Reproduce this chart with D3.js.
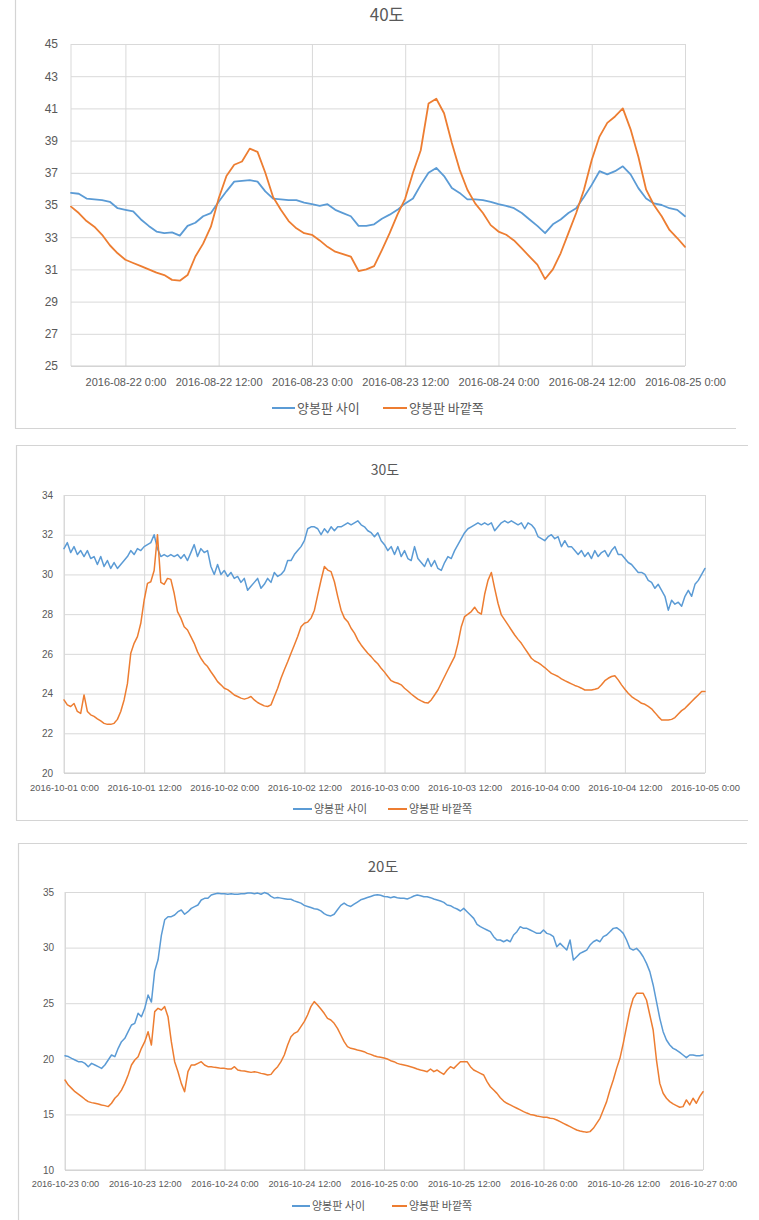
<!DOCTYPE html>
<html><head><meta charset="utf-8">
<script src="https://cdn.jsdelivr.net/npm/d3@7"></script>
<style>
body{margin:0;background:#fff;}
svg{display:block;}
</style></head><body>
<svg id="c" width="759" height="1220"></svg>
<script>
// ---------- DATA ----------
const seriesNames = ["양봉판 사이", "양봉판 바깥쪽"];
const seriesColors = ["#5B9BD5", "#ED7D31"];
const titles = ["40도", "30도", "20도"];

// Panel 1 (40도): hourly readings from 2016-08-21 17:00
const p1Start = "2016-08-21T17:00:00", p1StepMin = 60, p1End = "2016-08-25T00:00:00";
const p1YTicks = [25, 27, 29, 31, 33, 35, 37, 39, 41, 43, 45];
const p1XTicks = ["2016-08-22T00:00:00","2016-08-22T12:00:00","2016-08-23T00:00:00","2016-08-23T12:00:00","2016-08-24T00:00:00","2016-08-24T12:00:00","2016-08-25T00:00:00"];
const p1Blue = [35.75,35.7,35.4,35.35,35.3,35.2,34.8,34.7,34.6,34.1,33.7,33.35,33.25,33.3,33.1,33.7,33.9,34.3,34.5,35.2,
  35.85,36.45,36.5,36.55,36.45,35.85,35.4,35.35,35.3,35.3,35.15,35.05,34.95,35.05,34.7,34.5,34.3,33.7,33.7,33.8,
  34.15,34.4,34.7,35.1,35.4,36.25,37.0,37.3,36.8,36.05,35.75,35.35,35.35,35.3,35.2,35.05,34.95,34.8,34.5,34.1,
  33.7,33.25,33.8,34.1,34.5,34.8,35.5,36.25,37.1,36.9,37.1,37.4,36.9,36.05,35.4,35.1,35.0,34.8,34.7,34.3];
const p1Orange = [34.9,34.5,34.0,33.65,33.15,32.5,32.0,31.6,31.4,31.2,31.0,30.8,30.65,30.35,30.3,30.65,31.8,32.6,33.65,35.4,
  36.8,37.5,37.7,38.5,38.3,37.0,35.5,34.7,34.0,33.55,33.25,33.15,32.8,32.4,32.1,31.95,31.8,30.9,31.0,31.2,
  32.2,33.25,34.4,35.4,37.0,38.4,41.3,41.6,40.7,38.85,37.2,35.95,35.1,34.5,33.75,33.35,33.15,32.8,32.3,31.8,
  31.3,30.4,31.0,32.0,33.25,34.5,35.95,37.8,39.25,40.1,40.5,41.0,39.7,38.0,35.95,35.0,34.3,33.45,32.95,32.4];

// Panel 2 (30도): 30-minute readings from 2016-10-01 00:00
const p2Start = "2016-10-01T00:00:00", p2StepMin = 30, p2End = "2016-10-05T00:00:00";
const p2YTicks = [20, 22, 24, 26, 28, 30, 32, 34];
const p2XTicks = ["2016-10-01T00:00:00","2016-10-01T12:00:00","2016-10-02T00:00:00","2016-10-02T12:00:00","2016-10-03T00:00:00","2016-10-03T12:00:00","2016-10-04T00:00:00","2016-10-04T12:00:00","2016-10-05T00:00:00"];
const p2Blue = [31.3,31.6,31.1,31.4,31.0,31.2,30.9,31.2,30.8,30.9,30.5,30.9,30.4,30.7,30.3,30.6,30.3,30.5,30.7,30.9,
  31.2,31.0,31.3,31.2,31.4,31.5,31.6,32.0,31.3,30.9,31.0,30.9,31.0,30.9,31.0,30.8,31.0,30.7,31.1,31.5,
  30.9,31.3,31.1,31.2,30.4,30.0,30.5,30.0,30.2,29.9,30.1,29.8,29.9,29.6,29.8,29.2,29.4,29.6,29.8,29.3,
  29.5,29.8,29.6,30.1,29.9,30.0,30.2,30.7,30.7,31.0,31.2,31.4,31.7,32.3,32.4,32.4,32.3,32.0,32.3,32.1,
  32.4,32.2,32.4,32.4,32.5,32.6,32.5,32.6,32.7,32.5,32.4,32.2,32.1,31.9,32.1,31.7,31.5,31.2,31.4,31.0,
  31.4,30.9,31.2,30.8,30.7,31.4,30.8,30.6,30.4,30.8,30.4,30.7,30.3,30.2,30.6,30.9,30.8,31.2,31.5,31.8,
  32.1,32.3,32.4,32.5,32.6,32.5,32.6,32.5,32.6,32.2,32.4,32.6,32.7,32.6,32.7,32.6,32.5,32.6,32.3,32.6,
  32.5,32.3,31.9,31.8,31.7,31.9,32.0,31.8,31.9,31.4,31.7,31.4,31.4,31.2,31.0,31.2,30.9,31.1,30.8,31.2,
  30.9,31.1,31.2,30.9,31.2,31.4,31.0,31.0,30.8,30.6,30.5,30.3,30.1,30.1,30.0,29.7,29.6,29.3,29.5,29.2,
  28.9,28.2,28.7,28.5,28.6,28.4,28.9,29.2,28.9,29.5,29.7,30.0,30.3];
const p2Orange = [23.68,23.43,23.35,23.5,23.1,23.0,23.93,23.1,22.93,22.85,22.73,22.62,22.5,22.45,22.45,22.5,22.7,23.1,23.68,24.5,
  26.03,26.53,26.87,27.54,28.7,29.55,29.63,30.2,32.0,29.6,29.5,29.8,29.75,29.05,28.13,27.8,27.37,27.2,26.87,26.53,
  26.1,25.78,25.53,25.36,25.1,24.86,24.6,24.44,24.27,24.2,24.07,23.93,23.85,23.77,23.72,23.77,23.85,23.68,23.55,23.46,
  23.38,23.35,23.43,23.85,24.27,24.77,25.2,25.6,26.03,26.45,26.87,27.37,27.54,27.6,27.8,28.2,28.97,29.72,30.4,30.22,
  30.14,29.63,28.88,28.2,27.8,27.62,27.29,27.04,26.7,26.45,26.23,26.03,25.86,25.66,25.5,25.27,25.08,24.86,24.65,24.57,
  24.52,24.44,24.27,24.13,23.98,23.85,23.72,23.63,23.55,23.52,23.68,23.93,24.18,24.52,24.86,25.2,25.53,25.86,26.53,27.37,
  27.88,28.0,28.13,28.35,28.1,28.0,29.0,29.7,30.1,29.3,28.55,27.96,27.71,27.46,27.2,26.95,26.73,26.53,26.28,26.03,
  25.78,25.64,25.56,25.44,25.31,25.16,25.02,24.94,24.86,24.74,24.65,24.57,24.49,24.41,24.35,24.27,24.18,24.18,24.18,24.22,
  24.27,24.44,24.65,24.77,24.86,24.9,24.69,24.44,24.22,24.02,23.85,23.73,23.63,23.51,23.46,23.35,23.23,23.04,22.84,22.67,
  22.67,22.67,22.7,22.79,22.97,23.14,23.26,23.43,23.6,23.77,23.93,24.1,24.1];

// Panel 3 (20도): 30-minute readings from 2016-10-23 00:00
const p3Start = "2016-10-23T00:00:00", p3StepMin = 30, p3End = "2016-10-27T00:00:00";
const p3YTicks = [10, 15, 20, 25, 30, 35];
const p3XTicks = ["2016-10-23T00:00:00","2016-10-23T12:00:00","2016-10-24T00:00:00","2016-10-24T12:00:00","2016-10-25T00:00:00","2016-10-25T12:00:00","2016-10-26T00:00:00","2016-10-26T12:00:00","2016-10-27T00:00:00"];
const p3Blue = [20.28,20.2,20.04,19.89,19.74,19.74,19.59,19.29,19.59,19.44,19.29,19.14,19.44,19.89,20.34,20.19,20.94,21.54,21.84,22.44,
  23.04,23.19,24.09,23.79,24.54,25.74,25.1,27.9,28.9,31.1,32.5,32.78,32.78,32.93,33.23,33.38,33.0,33.23,33.53,33.68,
  33.83,34.28,34.43,34.43,34.73,34.82,34.88,34.85,34.85,34.8,34.85,34.8,34.8,34.85,34.85,34.9,34.9,34.85,34.9,34.8,
  34.95,34.85,34.6,34.45,34.5,34.45,34.4,34.35,34.35,34.2,34.1,34.0,33.8,33.7,33.6,33.5,33.45,33.3,33.05,32.9,
  32.85,33.0,33.4,33.8,34.0,33.8,33.7,33.9,34.1,34.3,34.4,34.5,34.6,34.7,34.75,34.7,34.6,
  34.58,34.49,34.58,34.49,34.43,34.43,34.37,34.49,34.64,34.73,34.67,34.58,34.58,34.49,34.37,34.28,34.19,34.07,33.83,33.77,
  33.59,33.47,33.29,33.53,33.23,32.93,32.63,32.09,31.88,31.73,31.58,31.43,30.98,30.68,30.68,30.53,30.68,30.53,31.13,31.43,
  31.88,31.73,31.73,31.58,31.43,31.28,31.28,31.58,31.28,31.19,30.98,30.08,30.38,30.08,29.78,30.68,28.88,29.18,29.48,29.63,
  29.78,30.23,30.53,30.68,30.53,30.98,31.13,31.43,31.73,31.79,31.58,31.28,30.68,29.93,29.78,29.93,29.63,29.18,28.58,27.84,
  26.64,25.14,23.64,22.44,21.69,21.24,20.94,20.79,20.58,20.34,20.1,20.34,20.34,20.28,20.28,20.34];
const p3Orange = [18.09,17.64,17.34,17.04,16.83,16.6,16.36,16.15,16.06,16.0,15.94,15.85,15.79,15.7,16.0,16.45,16.75,17.19,17.79,18.54,
  19.44,19.89,20.19,20.94,21.54,22.44,21.24,24.24,24.54,24.39,24.69,23.79,21.54,19.74,18.84,17.79,17.04,18.84,19.44,19.44,
  19.59,19.74,19.44,19.29,19.29,19.23,19.2,19.14,19.14,19.08,19.08,19.29,18.99,18.93,18.9,18.84,18.78,18.84,18.78,18.69,
  18.63,18.54,18.6,18.99,19.29,19.74,20.34,21.24,21.99,22.29,22.44,22.89,23.34,23.94,24.69,25.14,24.84,24.48,24.09,23.64,
  23.49,23.19,22.74,22.14,21.54,21.09,20.94,20.88,20.79,20.73,20.64,20.49,20.4,20.28,20.19,20.13,20.07,19.98,19.83,19.74,
  19.59,19.5,19.44,19.38,19.29,19.2,19.08,18.99,18.93,18.84,19.08,18.84,18.99,18.78,18.6,18.99,19.29,19.14,19.44,19.74,
  19.74,19.74,19.29,18.99,18.84,18.69,18.54,17.94,17.49,17.19,16.89,16.5,16.2,16.0,15.85,15.7,15.55,15.4,15.25,15.12,
  15.0,14.95,14.86,14.8,14.74,14.74,14.65,14.62,14.5,14.35,14.2,14.05,13.9,13.75,13.6,13.5,13.45,13.39,13.45,13.75,
  14.2,14.65,15.4,16.15,17.2,18.1,19.14,20.04,21.39,22.89,24.39,25.44,25.89,25.89,25.89,25.29,23.94,22.59,19.89,17.79,
  16.9,16.45,16.15,15.94,15.79,15.64,15.7,16.3,15.85,16.45,16.0,16.6,17.04];

// ---------- DRAWING ----------
const svg = d3.select("#c");
const parse = d3.timeParse("%Y-%m-%dT%H:%M:%S");
const fmt = d3.timeFormat("%Y-%m-%d %-H:%M");
const LATIN = "'Liberation Sans', Arial, sans-serif";
const KR = "'Noto Sans CJK KR', 'Noto Sans', sans-serif";
const GRID = "#D9D9D9", TXT = "#595959";

function toPoints(vals, start, stepMin) {
  const t0 = parse(start);
  return vals.map((v, i) => ({ t: d3.timeMinute.offset(t0, i * stepMin), v }));
}

function drawPanel(c) {
  const g = svg.append("g");
  // outer frame lines
  c.frame.forEach(f => g.append("line").attr("x1", f[0]).attr("y1", f[1]).attr("x2", f[2]).attr("y2", f[3])
    .attr("stroke", "#D4D4D4").attr("stroke-width", 1.2));

  const x = d3.scaleTime().domain([parse(c.start), parse(c.end)]).range([c.left, c.right]);
  const y = d3.scaleLinear().domain([c.yTicks[0], c.yTicks[c.yTicks.length - 1]]).range([c.bottom, c.top]);
  const xt = c.xTicks.map(parse);

  // gridlines
  const gy = g.append("g").attr("transform", `translate(${c.left},0)`)
    .call(d3.axisLeft(y).tickValues(c.yTicks).tickSize(-(c.right - c.left)).tickFormat(""));
  gy.select(".domain").remove();
  gy.selectAll("line").attr("stroke", GRID).attr("stroke-width", 1);
  const gx = g.append("g").attr("transform", `translate(0,${c.bottom})`)
    .call(d3.axisBottom(x).tickValues(xt).tickSize(-(c.bottom - c.top)).tickFormat(""));
  gx.select(".domain").remove();
  gx.selectAll("line").attr("stroke", GRID).attr("stroke-width", 1);
  // left edge line and bottom axis line
  g.append("line").attr("x1", c.left).attr("x2", c.left).attr("y1", c.top).attr("y2", c.bottom).attr("stroke", GRID);
  g.append("line").attr("x1", c.left).attr("x2", c.right).attr("y1", c.bottom).attr("y2", c.bottom).attr("stroke", "#CFCFCF");

  // y labels
  const ya = g.append("g").attr("transform", `translate(${c.left},0)`)
    .call(d3.axisLeft(y).tickValues(c.yTicks).tickSize(0).tickPadding(c.left - c.yLabelRight).tickFormat(d3.format("d")));
  ya.select(".domain").remove();
  ya.selectAll("text").attr("fill", TXT).style("font-family", LATIN).style("font-size", c.yFont + "px");

  // x labels
  const xa = g.append("g").attr("transform", `translate(0,${c.bottom})`)
    .call(d3.axisBottom(x).tickValues(xt).tickSize(0).tickPadding(c.xPad).tickFormat(fmt));
  xa.select(".domain").remove();
  xa.selectAll("text").attr("fill", TXT).style("font-family", LATIN).style("font-size", c.xFont + "px");

  // lines
  const line = d3.line().x(d => x(d.t)).y(d => y(d.v)).curve(d3.curveLinear);
  c.series.forEach((s, i) => {
    g.append("path").datum(toPoints(s, c.start, c.step))
      .attr("fill", "none").attr("stroke", seriesColors[i]).attr("stroke-width", c.lw)
      .attr("stroke-linejoin", "round").attr("stroke-linecap", "round").attr("d", line);
  });

  // title
  g.append("text").attr("x", c.titleX).attr("y", c.titleY).attr("text-anchor", "middle")
    .attr("fill", TXT).style("font-family", KR).style("font-size", c.titleFont + "px").text(c.title);

  // legend
  c.legend.forEach((L, i) => {
    g.append("line").attr("x1", L[0]).attr("x2", L[1]).attr("y1", c.legendY).attr("y2", c.legendY)
      .attr("stroke", seriesColors[i]).attr("stroke-width", 2);
    g.append("text").attr("x", L[1] + 2).attr("y", c.legendY).attr("dy", "0.35em").attr("fill", TXT)
      .style("font-family", KR).style("font-size", c.legendFont + "px").text(seriesNames[i]);
  });
}

drawPanel({
  title: titles[0], titleX: 387, titleY: 21, titleFont: 17,
  start: p1Start, end: p1End, step: p1StepMin, yTicks: p1YTicks, xTicks: p1XTicks,
  series: [p1Blue, p1Orange],
  left: 71, right: 685, top: 44, bottom: 366, yLabelRight: 58, yFont: 12, xFont: 11, xPad: 12,
  lw: 1.8, legendY: 408, legendFont: 13, legend: [[272, 295], [383, 407]],
  frame: [[15.5, 0, 15.5, 428.5], [15, 428.5, 736, 428.5]]
});
drawPanel({
  title: titles[1], titleX: 385, titleY: 475, titleFont: 14,
  start: p2Start, end: p2End, step: p2StepMin, yTicks: p2YTicks, xTicks: p2XTicks,
  series: [p2Blue, p2Orange],
  left: 64, right: 705, top: 495, bottom: 773, yLabelRight: 53, yFont: 10, xFont: 9.4, xPad: 11,
  lw: 1.5, legendY: 809, legendFont: 11, legend: [[293, 312], [388, 407]],
  frame: [[16, 445.5, 748, 445.5], [16.5, 445, 16.5, 820.5], [16, 820.5, 748, 820.5]]
});
drawPanel({
  title: titles[2], titleX: 383, titleY: 872, titleFont: 15,
  start: p3Start, end: p3End, step: p3StepMin, yTicks: p3YTicks, xTicks: p3XTicks,
  series: [p3Blue, p3Orange],
  left: 65, right: 703, top: 892, bottom: 1170, yLabelRight: 54, yFont: 10, xFont: 9.2, xPad: 10,
  lw: 1.5, legendY: 1206, legendFont: 11, legend: [[292, 310], [392, 407]],
  frame: [[18, 843.5, 747, 843.5], [18.5, 843, 18.5, 1220]]
});
</script>
</body></html>
